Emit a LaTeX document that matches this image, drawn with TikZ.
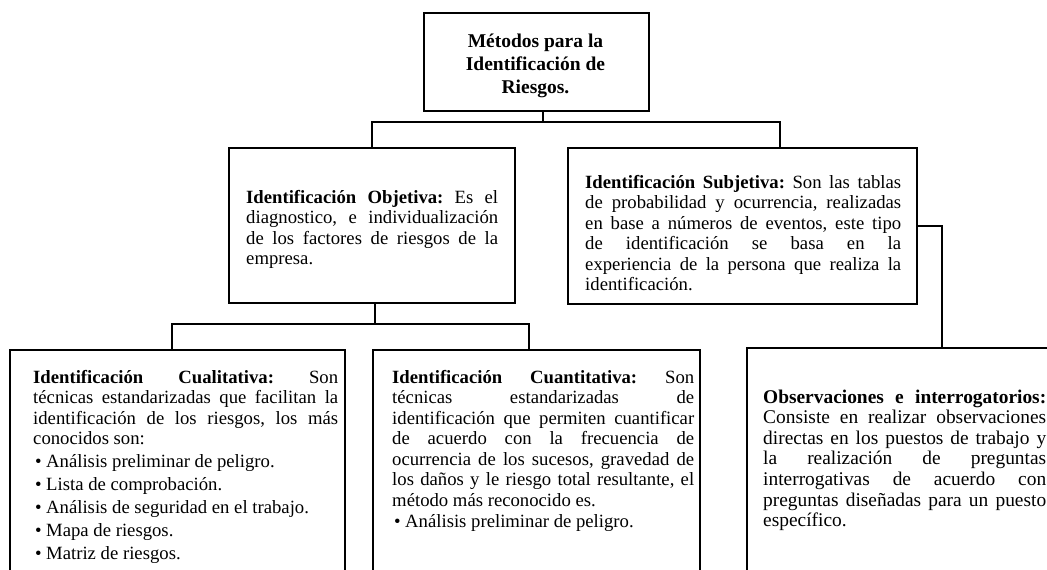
\documentclass[tikz,border=0pt]{standalone}
\usepackage{fontspec}
\setmainfont{Liberation Serif}
\setlength{\parindent}{0pt}
\frenchspacing
\hbadness=10000
\hfuzz=30pt
\newcommand{\bodyfont}{\fontsize{18.7}{20.5}\selectfont}
\newcommand{\obsfont}{\fontsize{19.4}{20.6}\selectfont}
\newcommand{\titlefont}{\fontsize{19.5}{23}\selectfont\bfseries}
\newcommand{\jl}[1]{\hbox to \hsize{#1}}
\newcommand{\nl}[1]{\hbox{#1}}
\newcommand{\cl}[1]{\hbox to \hsize{\hfil#1\hfil}}
\newcommand{\bl}[1]{\hbox{\makebox[13pt][l]{\hspace{2pt}•}#1}}
\newcommand{\lines}[2]{\vtop{\hsize=#1\relax#2}}
\tikzset{
  boxnode/.style={draw, rectangle, line width=1.4pt, inner sep=0pt},
  txtnode/.style={inner sep=0pt, anchor=base west, font=\bodyfont},
  link/.style={line width=1.3pt}
}
\begin{document}
\begin{tikzpicture}[x=1pt,y=-1pt]
\useasboundingbox (0,0) rectangle (1047,570);
\clip (0,0) rectangle (1047,570);
% boxes
\node[boxnode, minimum width=225pt, minimum height=98pt] (top) at (536.5,62) {};
\node[boxnode, minimum width=286pt, minimum height=155pt] (obj) at (372,225.5) {};
\node[boxnode, minimum width=349pt, minimum height=156pt] (subj) at (742.5,226) {};
\node[boxnode, minimum width=335pt, minimum height=300pt] (cual) at (177.5,500) {};
\node[boxnode, minimum width=327pt, minimum height=300pt] (cuant) at (536.5,500) {};
\node[boxnode, minimum width=333pt, minimum height=300pt] (obs) at (913.5,498) {};
% texts
\node[inner sep=0pt, anchor=base, font=\titlefont] (topt) at (535.5,47.5) {\lines{200pt}{%
\cl{Métodos para la}
\cl{Identificación de}
\cl{Riesgos.}}};
\node[txtnode] (objt) at (246,203) {\lines{252pt}{%
\jl{\textbf{Identificación Objetiva:} Es el}
\jl{diagnostico, e individualización}
\jl{de los factores de riesgos de la}
\nl{empresa.}}};
\node[txtnode] (subjt) at (585,188) {\lines{316pt}{%
\jl{\textbf{Identificación Subjetiva:} Son las tablas}
\jl{de probabilidad y ocurrencia, realizadas}
\jl{en base a números de eventos, este tipo}
\jl{de identificación se basa en la}
\jl{experiencia de la persona que realiza la}
\nl{identificación.}}};
\node[txtnode] (cualt) at (33,383) {\lines{305pt}{%
\jl{\textbf{Identificación Cualitativa:} Son}
\jl{técnicas estandarizadas que facilitan la}
\jl{identificación de los riesgos, los más}
\nl{conocidos son:}
\baselineskip=23pt
\bl{Análisis preliminar de peligro.}
\bl{Lista de comprobación.}
\bl{Análisis de seguridad en el trabajo.}
\bl{Mapa de riesgos.}
\bl{Matriz de riesgos.}}};
\node[txtnode] (cuantt) at (392,383) {\lines{302pt}{%
\jl{\textbf{Identificación Cuantitativa:} Son}
\jl{técnicas estandarizadas de}
\jl{identificación que permiten cuantificar}
\jl{de acuerdo con la frecuencia de}
\jl{ocurrencia de los sucesos, gravedad de}
\jl{los daños y le riesgo total resultante, el}
\nl{método más reconocido es.}
\baselineskip=21pt
\bl{Análisis preliminar de peligro.}}};
\node[txtnode, font=\obsfont] (obst) at (763,403) {\lines{283pt}{%
\jl{\textbf{Observaciones e interrogatorios:}}
\jl{Consiste en realizar observaciones}
\jl{directas en los puestos de trabajo y}
\jl{la realización de preguntas}
\jl{interrogativas de acuerdo con}
\jl{preguntas diseñadas para un puesto}
\nl{específico.}}};
% connectors
\coordinate (bus1) at (543,122);
\coordinate (bus2) at (375,324);
\draw[link] ([xshift=6.5pt]top.south) -- (bus1);
\draw[link] (obj.north) |- (bus1) -| ([xshift=37.5pt]subj.north);
\draw[link] ([xshift=3pt]obj.south) -- (bus2);
\draw[link] ([xshift=-5.5pt]cual.north) |- (bus2) -| ([xshift=-7.5pt]cuant.north);
\draw[link] (subj.east) -| ([xshift=28.5pt]obs.north);
\end{tikzpicture}
\end{document}
